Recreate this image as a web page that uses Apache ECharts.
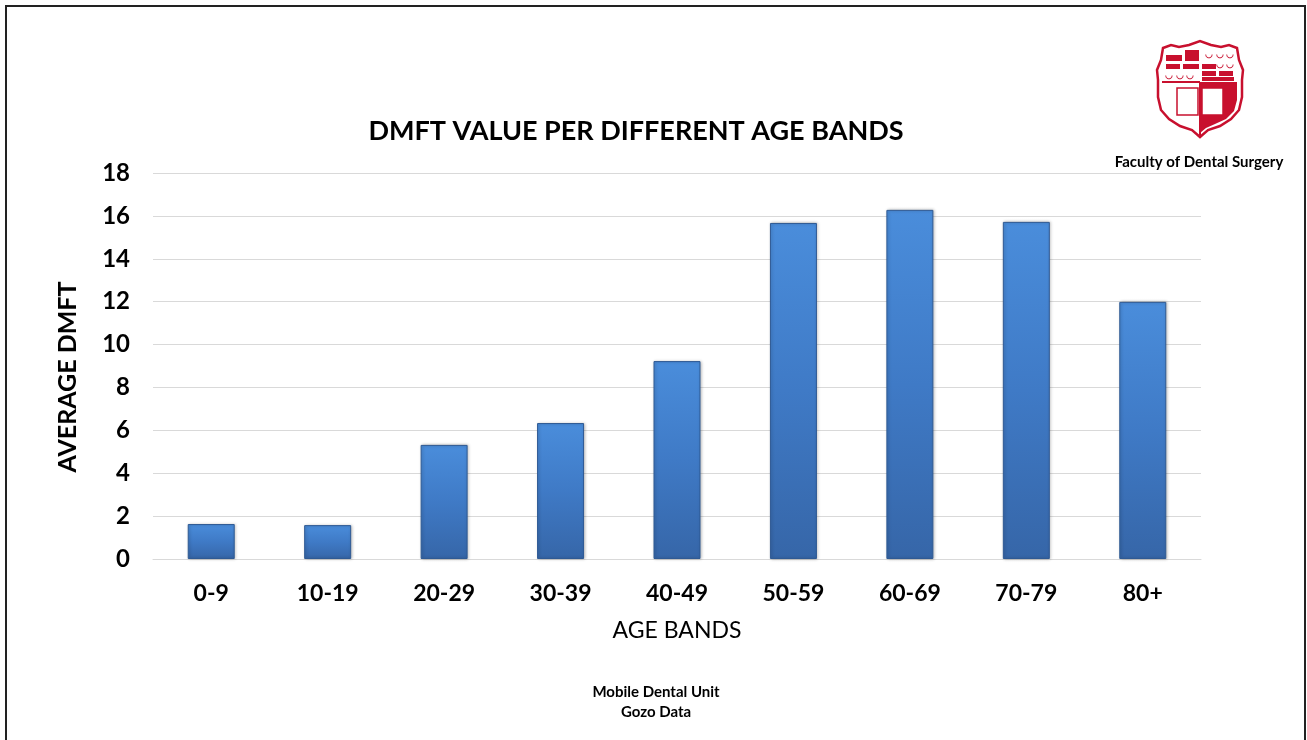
<!DOCTYPE html>
<html>
<head>
<meta charset="utf-8">
<script src="https://cdn.jsdelivr.net/npm/echarts@6/dist/echarts.min.js"></script>
<style>
  html, body { margin: 0; padding: 0; background: #fff; }
  #chart { width: 1307px; height: 740px; }
</style>
</head>
<body>
<div id="chart"></div>
<script>
// age bands and average DMFT
var ageBands = ['0-9', '10-19', '20-29', '30-39', '40-49', '50-59', '60-69', '70-79', '80+'];
var avgDmft = [1.63, 1.58, 5.32, 6.34, 9.23, 15.67, 16.28, 15.72, 11.99];

var font = 'Lato, "Open Sans", sans-serif';
var red = '#c8102e';

var myChart = echarts.init(document.getElementById('chart'));

var barColor = {
  type: 'linear', x: 0, y: 0, x2: 0, y2: 1,
  colorStops: [
    { offset: 0, color: '#4a8ddb' },
    { offset: 0.5, color: '#3f7ac6' },
    { offset: 1, color: '#3666a8' }
  ]
};

var shield = [[1163,48],[1171,45],[1179,47],[1189,45],[1200,41],[1211,45],[1221,47],[1229,45],[1237,48],
  [1239,60],[1243,70],[1242,80],[1242,97],[1239,110],[1231,119],[1220,126],[1208,130],[1200,137],
  [1192,130],[1180,126],[1169,119],[1161,110],[1158,97],[1158,80],[1157,70],[1161,60]];
var shieldRight = [[1200,82],[1237,82],[1237,100],[1234,111],[1226,119],[1215,124],[1206,128],[1200,133]];

function block(x, y, w, h) {
  return { type: 'rect', shape: { x: x, y: y, width: w, height: h }, style: { fill: red } };
}

myChart.setOption({
  backgroundColor: '#fff',
  animation: false,
  title: {
    text: 'DMFT VALUE PER DIFFERENT AGE BANDS',
    left: 631,
    textAlign: 'center',
    top: 113,
    textStyle: { fontFamily: font, fontSize: 27, fontWeight: 'bold', color: '#000' }
  },
  grid: { left: 153, right: 106, top: 173, bottom: 181 },
  xAxis: {
    type: 'category',
    data: ageBands,
    name: 'AGE BANDS',
    nameLocation: 'middle',
    nameGap: 60,
    nameTextStyle: { fontFamily: font, fontSize: 23, color: '#000' },
    axisLine: { lineStyle: { color: '#d9d9d9' } },
    axisTick: { show: false },
    axisLabel: { fontFamily: font, fontSize: 23, fontWeight: 'bold', color: '#000', margin: 23 }
  },
  yAxis: {
    type: 'value',
    min: 0,
    max: 18,
    interval: 2,
    axisLine: { show: false },
    axisTick: { show: false },
    splitLine: { lineStyle: { color: '#d9d9d9' } },
    axisLabel: { fontFamily: font, fontSize: 24, fontWeight: 'bold', color: '#000', margin: 23 }
  },
  series: [{
    type: 'bar',
    data: avgDmft,
    barWidth: 47,
    itemStyle: {
      color: barColor,
      borderColor: '#2f5a94',
      borderWidth: 1,
      shadowColor: 'rgba(0,0,0,0.25)',
      shadowBlur: 3,
      shadowOffsetX: 1
    }
  }],
  graphic: [
    // frame
    { type: 'polyline', shape: { points: [[6, 740], [6, 6], [1305, 6], [1305, 740]] },
      style: { stroke: '#222', lineWidth: 2, fill: null } },
    // y axis title
    { type: 'text', x: 68, y: 377, rotation: Math.PI / 2,
      style: { text: 'AVERAGE DMFT', align: 'center', verticalAlign: 'middle', fill: '#000',
        font: 'bold 25px ' + font } },
    // logo shield
    { type: 'polygon', shape: { points: shield }, style: { fill: '#fff', stroke: red, lineWidth: 2.5 } },
    { type: 'polygon', shape: { points: shieldRight }, style: { fill: red } },
    block(1166, 55, 16, 6), block(1185, 50, 14, 11), block(1166, 64, 14, 5), block(1183, 64, 16, 5),
    block(1202, 64, 14, 5), block(1202, 71, 14, 5), block(1219, 71, 14, 5), block(1202, 77, 32, 4),
    { type: 'line', shape: { x1: 1162, y1: 82, x2: 1200, y2: 82 }, style: { stroke: red, lineWidth: 2 } },
    { type: 'line', shape: { x1: 1200, y1: 82, x2: 1200, y2: 135 }, style: { stroke: red, lineWidth: 2 } },
    { type: 'text', style: { x: 1205, y: 50, text: '◡ ◡ ◡', fill: red, font: 'bold 9px sans-serif' } },
    { type: 'text', style: { x: 1205, y: 60, text: '◡ ◡ ◡', fill: red, font: 'bold 9px sans-serif' } },
    { type: 'text', style: { x: 1165, y: 71, text: '◡ ◡ ◡', fill: red, font: 'bold 9px sans-serif' } },
    { type: 'rect', shape: { x: 1177, y: 88, width: 21, height: 27 }, style: { fill: '#fff', stroke: red, lineWidth: 1.5 } },
    { type: 'rect', shape: { x: 1202, y: 88, width: 21, height: 27 }, style: { fill: '#fff', stroke: red, lineWidth: 1.5 } },
    { type: 'text', style: { x: 1199, y: 162, text: 'Faculty of Dental Surgery', align: 'center', verticalAlign: 'middle',
      fill: '#000', font: 'bold 15px ' + font } },
    // footer
    { type: 'text', style: { x: 656, y: 692, text: 'Mobile Dental Unit', align: 'center', verticalAlign: 'middle',
      fill: '#000', font: 'bold 15px ' + font } },
    { type: 'text', style: { x: 656, y: 712, text: 'Gozo Data', align: 'center', verticalAlign: 'middle',
      fill: '#000', font: 'bold 15px ' + font } }
  ]
});
</script>
</body>
</html>
